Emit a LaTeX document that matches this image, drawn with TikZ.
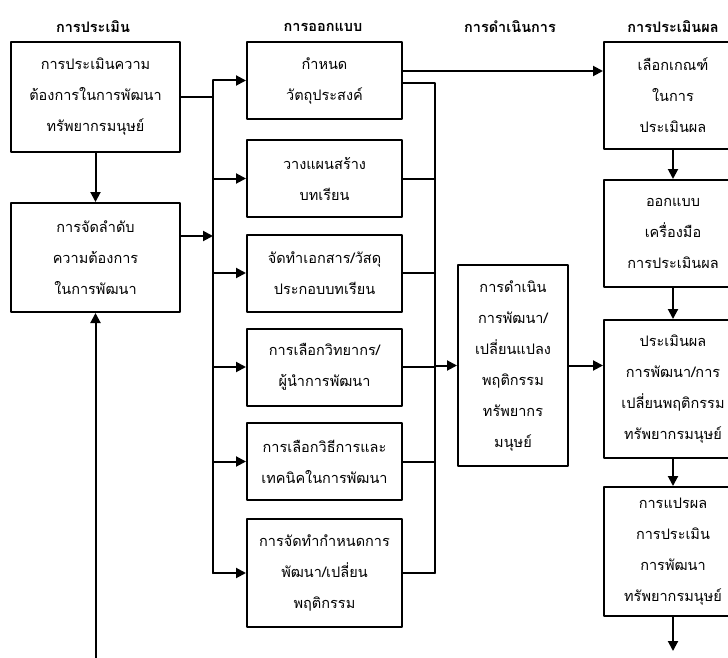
\documentclass[tikz,border=0pt]{standalone}
\usepackage{fontspec}
\newfontfamily\thaifont[Script=Thai]{Loma}
\usetikzlibrary{arrows.meta}
\tikzset{box/.style={draw,line width=2pt,align=center,inner sep=0pt,font=\thaifont\fontsize{14.5}{31}\selectfont},
head/.style={font=\thaifont\bfseries\fontsize{14.5}{18}\selectfont},
mid/.style={box,minimum width=155pt,minimum height=77pt},
rgt/.style={box,minimum width=138pt},
conn/.style={line width=2pt}}
\begin{document}
\begin{tikzpicture}[line cap=round,line join=round,>={Triangle[length=10pt,width=10pt]},x=1pt,y=-1pt]
\useasboundingbox (0,0) rectangle (728,658);
\clip(0,0) rectangle (728,658);
\node[head] (hAssess) at (93,27) {การประเมิน};
\node[head] (hDesign) at (323,27) {การออกแบบ};
\node[head] (hImpl) at (510,27) {การดำเนินการ};
\node[head] (hEval) at (673,27) {การประเมินผล};
\node[box,minimum width=169pt,minimum height=110pt] (assess) at (95.5,97) {การประเมินความ\\ต้องการในการพัฒนา\\ทรัพยากรมนุษย์};
\node[box,minimum width=169pt,minimum height=109pt] (rank) at (95.5,257.5) {การจัดลำดับ\\ความต้องการ\\ในการพัฒนา};
\node[mid] (obj) at (324.5,80.5) {กำหนด\\วัตถุประสงค์};
\node[mid] (plan) at (324.5,178.5) {วางแผนสร้าง\\บทเรียน};
\node[mid] (material) at (324.5,273) {จัดทำเอกสาร/วัสดุ\\ประกอบบทเรียน};
\node[mid] (trainer) at (324.5,367) {การเลือกวิทยากร/\\ผู้นำการพัฒนา};
\node[mid] (method) at (324.5,461.5) {การเลือกวิธีการและ\\เทคนิคในการพัฒนา};
\node[mid,minimum height=108pt] (program) at (324.5,573) {การจัดทำกำหนดการ\\พัฒนา/เปลี่ยน\\พฤติกรรม};
\node[box,minimum width=110pt,minimum height=201pt] (implement) at (513,365.5) {การดำเนิน\\การพัฒนา/\\เปลี่ยนแปลง\\พฤติกรรม\\ทรัพยากร\\มนุษย์};
\node[rgt,minimum height=107pt] (criteria) at (673,95.5) {เลือกเกณฑ์\\ในการ\\ประเมินผล};
\node[rgt,minimum height=107pt] (tool) at (673,233.5) {ออกแบบ\\เครื่องมือ\\การประเมินผล};
\node[rgt,minimum height=138pt] (evaluate) at (673,389) {ประเมินผล\\การพัฒนา/การ\\เปลี่ยนพฤติกรรม\\ทรัพยากรมนุษย์};
\node[rgt,minimum height=129pt] (interpret) at (673,551.5) {การแปรผล\\การประเมิน\\การพัฒนา\\ทรัพยากรมนุษย์};
\coordinate (bus1) at (213,0);
\coordinate (bus2) at (435,0);
\coordinate (out) at (673,651);
\coordinate (back) at (95.5,670);
\draw[conn,->] (assess) -- (rank);
\draw[conn,->] (back) -- (rank);
\draw[conn] (assess.east) -- (assess.east -| bus1);
\draw[conn,->] ([yshift=21.5pt]rank.east) -- ([yshift=21.5pt]rank.east -| bus1);
\draw[conn] (obj.west -| bus1) -- (program.west -| bus1);
\foreach \b in {obj,plan,material,trainer,method,program}
  \draw[conn,->] (\b.west -| bus1) -- (\b.west);
\draw[conn] ([yshift=-2.5pt]obj.east) -- ([yshift=-2.5pt]obj.east -| bus2) -- (program.east -| bus2);
\foreach \b in {plan,material,trainer,method,program}
  \draw[conn] (\b.east) -- (\b.east -| bus2);
\draw[conn,->] (implement.west -| bus2) -- (implement.west);
\draw[conn,->] ([yshift=9.5pt]obj.east) -- ([yshift=9.5pt]obj.east -| criteria.west);
\draw[conn,->] (implement.east) -- (implement.east -| evaluate.west);
\draw[conn,->] (criteria) -- (tool);
\draw[conn,->] (tool) -- (evaluate);
\draw[conn,->] (evaluate) -- (interpret);
\draw[conn,->] (interpret) -- (out);
\end{tikzpicture}
\end{document}
